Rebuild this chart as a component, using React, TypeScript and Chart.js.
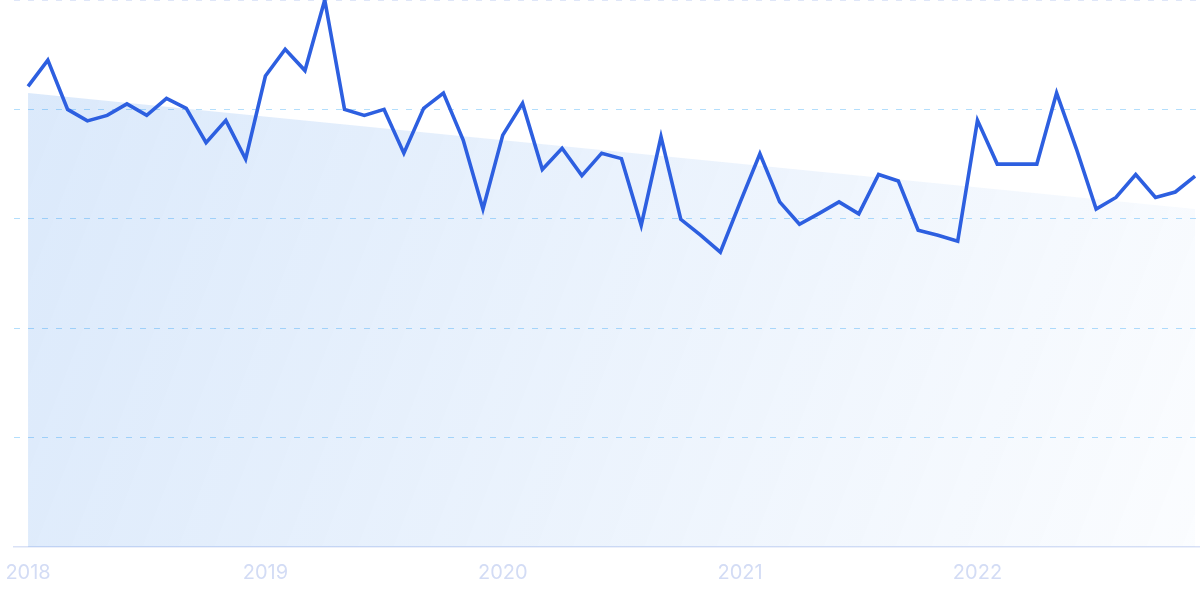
import React, { useEffect, useRef } from "react";
import { Chart, registerables } from "chart.js";

Chart.register(...registerables);

// Monthly values, Jan 2018 – Dec 2022 (index 0..59)
const monthValues: number[] = [
  84.2, 89.0, 80.0, 77.9, 78.9, 81.0, 78.9, 82.0, 80.2, 73.9, 78.0, 70.9,
  86.1, 91.0, 87.1, 100.0, 80.0, 78.9, 80.0, 72.0, 80.2, 83.0, 74.4, 61.8,
  75.3, 81.1, 69.0, 72.9, 67.9, 72.0, 71.0, 58.8, 75.0, 59.9, 57.0, 53.9,
  63.0, 71.9, 63.1, 59.0, 61.0, 63.1, 60.9, 68.1, 66.9, 57.9, 57.0, 55.9,
  78.0, 70.0, 70.0, 70.0, 83.0, 72.8, 61.8, 63.9, 68.1, 63.9, 64.9, 67.8,
];

// Trend line end points (start index, end index) and values
const trendIdx: number[] = [0, 59];
const trendValues: number[] = [83.0, 61.8];

// Year tick labels and their month index
const yearLabels: string[] = ["2018", "2019", "2020", "2021", "2022"];
const yearTickIdx: number[] = [0, 12, 24, 36, 48];

const yTicks: number[] = [0, 20, 40, 60, 80, 100];

export default function App() {
  const ref = useRef<HTMLCanvasElement | null>(null);

  useEffect(() => {
    const canvas = ref.current;
    if (!canvas) return;
    const chart = new Chart(canvas, {
      type: "line",
      data: {
        datasets: [
          {
            data: monthValues.map((v, i) => ({ x: i, y: v })),
            borderColor: "#2d5fe0",
            borderWidth: 3.6,
            pointRadius: 0,
            tension: 0,
            fill: false,
            clip: false as any,
            borderJoinStyle: "miter",
          },
          {
            data: trendIdx.map((x, i) => ({ x, y: trendValues[i] })),
            borderWidth: 0,
            borderColor: "rgba(0,0,0,0)",
            pointRadius: 0,
            tension: 0,
            fill: "origin",
            backgroundColor: (ctx: any) => {
              const { chart } = ctx;
              const area = chart.chartArea;
              if (!area) return "rgba(37,120,230,0.15)";
              const g = chart.ctx.createLinearGradient(area.left, area.top + 90, area.right, area.bottom);
              g.addColorStop(0, "rgba(40,125,232,0.17)");
              g.addColorStop(1, "rgba(40,125,232,0.02)");
              return g;
            },
          },
        ],
      },
      options: {
        responsive: false,
        animation: false,
        events: [],
        layout: { padding: { left: 14, right: 0, top: 0, bottom: 0 } },
        plugins: { legend: { display: false }, tooltip: { enabled: false } },
        scales: {
          x: {
            type: "linear",
            min: -0.71,
            max: 59.25,
            grid: { display: false, drawTicks: false },
            border: { display: true, color: "#d9e1f6", width: 1.5 },
            afterBuildTicks: (scale: any) => {
              scale.ticks = yearTickIdx.map((v) => ({ value: v }));
            },
            afterFit: (scale: any) => {
              scale.paddingLeft = 0;
              scale.paddingRight = 0;
            },
            ticks: {
              autoSkip: false,
              maxRotation: 0,
              padding: 14,
              color: "#d3dcf5",
              font: { family: "Inter", size: 20 },
              callback: (value: any) => {
                const k = yearTickIdx.indexOf(Number(value));
                return k >= 0 ? yearLabels[k] : "";
              },
            },
          },
          y: {
            min: 0,
            max: 100,
            afterBuildTicks: (scale: any) => {
              scale.ticks = yTicks.map((v) => ({ value: v }));
            },
            ticks: { display: false },
            grid: {
              drawTicks: false,
              lineWidth: 1,
              color: (ctx: any) => {
                const v = ctx.tick ? ctx.tick.value : 0;
                if (v === 0) return "rgba(0,0,0,0)";
                if (v === 100) return "#dfe6f8";
                return "#b3defc";
              },
            },
            border: { display: false, dash: [6, 8] },
          },
        },
      },
    });
    return () => chart.destroy();
  }, []);

  return (
    <div style={{ position: "fixed", left: 0, top: 0, width: 1200, height: 599, background: "#ffffff" }}>
      <canvas ref={ref} width={1200} height={599} style={{ display: "block" }} />
    </div>
  );
}
